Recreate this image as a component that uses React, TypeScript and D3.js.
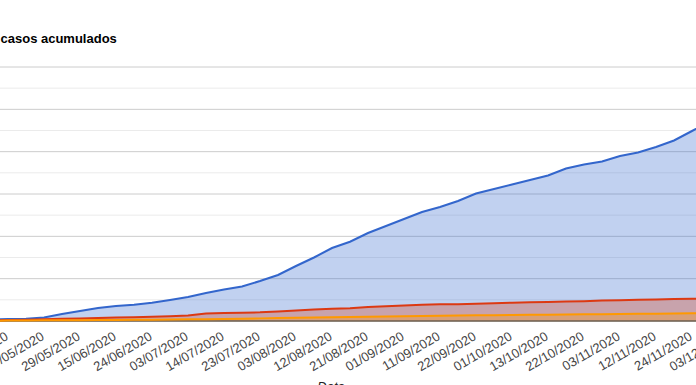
import React, { useEffect } from 'react';
import * as d3 from 'd3';

// Tick labels shown on the category axis (one every other sample below)
const dateLabels = [
  '11/05/2020', '20/05/2020', '29/05/2020', '15/06/2020', '24/06/2020', '03/07/2020',
  '14/07/2020', '23/07/2020', '03/08/2020', '12/08/2020', '21/08/2020', '01/09/2020',
  '11/09/2020', '22/09/2020', '01/10/2020', '13/10/2020', '22/10/2020', '03/11/2020',
  '12/11/2020', '24/11/2020', '03/12/2020',
];

// Samples at half-label steps, starting half a step before the first label
const confirmados = [
  350, 470, 520, 830, 1650, 2360, 3070, 3540, 3850, 4320, 4960, 5670, 6610, 7440,
  8150, 9450, 10870, 12990, 15000, 17240, 18730, 20790, 22440, 24090, 25750, 26930,
  28350, 30120, 31180, 32240, 33310, 34370, 36020, 36970, 37680, 38980, 39800, 41100,
  42640, 44880, 47240,
];
const recuperados = [
  165, 236, 307, 402, 520, 614, 709, 827, 898, 992, 1134, 1276, 1772, 1890, 1961,
  2055, 2244, 2480, 2717, 2882, 3000, 3307, 3472, 3661, 3827, 3945, 3969, 4063, 4205,
  4323, 4417, 4488, 4583, 4677, 4819, 4913, 5008, 5102, 5197, 5268, 5339,
];
const obitos = [
  50, 110, 130, 150, 170, 200, 230, 260, 290, 320, 350, 390, 420, 470, 560, 620, 680,
  760, 830, 900, 960, 1020, 1080, 1130, 1180, 1230, 1290, 1330, 1370, 1410, 1450, 1490,
  1530, 1570, 1610, 1650, 1700, 1740, 1780, 1810, 1840,
];

const series = [
  { name: 'confirmados', values: confirmados, color: '#3366cc' },
  { name: 'recuperados', values: recuperados, color: '#dc3912' },
  { name: 'obitos', values: obitos, color: '#ff9900' },
];

const W = 696;
const H = 385;
const FONT = '"Liberation Sans", Arial, sans-serif';

export default function App() {
  useEffect(() => {
    document.body.style.margin = '0';
  }, []);

  const x = d3.scaleLinear().domain([0, dateLabels.length - 1]).range([8, 728]);
  const y = d3.scaleLinear().domain([0, 60000]).range([321, 67]);
  const pos = (i: number) => x((i - 1) / 2);

  const area = d3.area<number>()
    .x((_, i) => pos(i))
    .y0(y(0))
    .y1((d) => y(d));
  const line = d3.line<number>()
    .x((_, i) => pos(i))
    .y((d) => y(d));

  const major = y.ticks(6);
  const minor = d3.range(5000, 60000, 10000);

  return (
    <svg width={W} height={H} style={{ display: 'block', background: '#fff' }}>
      <text x={0.5} y={42.5} fontFamily={FONT} fontSize={13} fontWeight="bold" fill="#000">
        casos acumulados
      </text>

      {minor.map((v) => (
        <line key={'m' + v} x1={0} x2={W} y1={y(v)} y2={y(v)} stroke="#ebebeb" />
      ))}
      {major.map((v) => (
        <line key={'M' + v} x1={0} x2={W} y1={y(v)} y2={y(v)} stroke="#cccccc" />
      ))}

      {series.map((s) => (
        <path key={'a' + s.name} d={area(s.values) ?? ''} fill={s.color} fillOpacity={0.3} />
      ))}
      <line x1={0} x2={W} y1={y(0)} y2={y(0)} stroke="#6e6152" strokeWidth={1.5} />
      {series.map((s) => (
        <path key={'l' + s.name} d={line(s.values) ?? ''} fill="none" stroke={s.color} strokeWidth={2} />
      ))}

      {dateLabels.map((d, k) => (
        <text
          key={d}
          transform={`translate(${x(k) + 1},339) rotate(-30)`}
          textAnchor="end"
          fontFamily={FONT}
          fontSize={13}
          fill="#444"
        >
          {d}
        </text>
      ))}

      <text x={331} y={390.5} textAnchor="middle" fontFamily={FONT} fontSize={13} fontStyle="italic" fill="#222">
        Data
      </text>
    </svg>
  );
}
